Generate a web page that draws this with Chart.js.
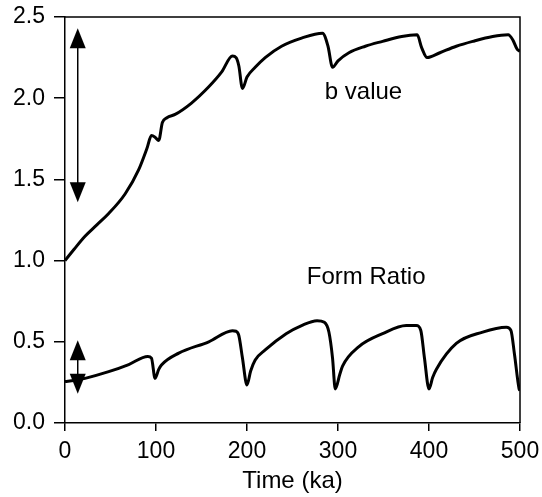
<!DOCTYPE html>
<html>
<head>
<meta charset="utf-8">
<script src="https://cdn.jsdelivr.net/npm/chart.js@4/dist/chart.umd.min.js"></script>
<style>
  html, body { margin: 0; padding: 0; background: #fff; }
  canvas { display: block; }
</style>
</head>
<body>
<canvas id="chart" width="542" height="497"></canvas>
<script>
// b value curve (time in ka, value)
const bTime = [0, 10, 22, 35, 48, 66, 81, 90, 95, 99, 103, 107, 112, 121, 139, 158, 172, 184, 188, 191, 195,
    200, 209, 220, 238, 260, 283, 289, 294, 300, 312, 330, 349, 370, 387, 392, 398,
    412, 430, 448, 470, 487, 492, 497, 500];
const bValue = [1.0, 1.07, 1.15, 1.22, 1.29, 1.41, 1.56, 1.69, 1.77, 1.76, 1.74, 1.85, 1.88, 1.90, 1.97, 2.07, 2.16, 2.26, 2.25, 2.20, 2.06,
    2.13, 2.19, 2.25, 2.32, 2.37, 2.40, 2.32, 2.19, 2.23, 2.28, 2.32, 2.35, 2.38, 2.39, 2.31, 2.25,
    2.28, 2.32, 2.35, 2.38, 2.39, 2.36, 2.30, 2.29];

// form ratio curve
const frTime = [0, 10, 22, 48, 70, 91, 95, 99, 103, 106, 125, 158, 184, 188, 191, 195, 200,
    204, 209, 220, 243, 260, 277, 285, 290, 294, 297,
    302, 305, 323, 349, 375, 386, 391, 395, 400,
    404, 408, 430, 459, 485, 490, 494, 499, 500];
const frValue = [0.255, 0.262, 0.275, 0.316, 0.36, 0.41, 0.40, 0.275, 0.33, 0.357, 0.43, 0.50, 0.568, 0.565, 0.54, 0.40, 0.234,
    0.32, 0.388, 0.45, 0.55, 0.60, 0.63, 0.62, 0.56, 0.40, 0.21,
    0.30, 0.35, 0.47, 0.55, 0.60, 0.60, 0.57, 0.40, 0.21,
    0.28, 0.33, 0.49, 0.56, 0.59, 0.57, 0.42, 0.21, 0.20];

// axis ticks
const xTicks = [0, 100, 200, 300, 400, 500];
const yTicks = [0.0, 0.5, 1.0, 1.5, 2.0, 2.5];

// range arrows (double headed) and curve labels
const arrowTime = [14, 14];
const arrowTop = [2.43, 0.51];
const arrowBottom = [1.36, 0.18];
const labelText = ['b value', 'Form Ratio'];
const labelTime = [328, 331];
const labelValue = [2.035, 0.895];

const FONT = "'Liberation Sans', Arial, Helvetica, sans-serif";

function toPoints(xs, ys) {
    return xs.map((x, i) => ({ x: x, y: ys[i] }));
}

const decorations = {
    id: 'decorations',
    afterDatasetsDraw(chart) {
        const ctx = chart.ctx;
        const a = chart.chartArea;
        const xs = chart.scales.x, ys = chart.scales.y;
        ctx.save();
        // frame top & right
        ctx.strokeStyle = '#000';
        ctx.lineWidth = 1.5;
        ctx.beginPath();
        ctx.moveTo(a.left, a.top);
        ctx.lineTo(a.right, a.top);
        ctx.lineTo(a.right, a.bottom);
        ctx.stroke();

        // arrows
        arrowTime.forEach((t, i) => {
            const x = xs.getPixelForValue(t);
            const y1 = ys.getPixelForValue(arrowTop[i]);
            const y2 = ys.getPixelForValue(arrowBottom[i]);
            const hw = 8, hh = 20;
            ctx.lineWidth = 1.5;
            ctx.beginPath();
            ctx.moveTo(x, y1 + hh - 2);
            ctx.lineTo(x, y2 - hh + 2);
            ctx.stroke();
            ctx.fillStyle = '#000';
            ctx.beginPath();
            ctx.moveTo(x, y1);
            ctx.lineTo(x - hw, y1 + hh);
            ctx.lineTo(x + hw, y1 + hh);
            ctx.closePath();
            ctx.fill();
            ctx.beginPath();
            ctx.moveTo(x, y2);
            ctx.lineTo(x - hw, y2 - hh);
            ctx.lineTo(x + hw, y2 - hh);
            ctx.closePath();
            ctx.fill();
        });

        // labels
        ctx.fillStyle = '#000';
        ctx.font = '24px ' + FONT;
        ctx.textAlign = 'center';
        ctx.textBaseline = 'middle';
        labelText.forEach((s, i) => {
            ctx.fillText(s, xs.getPixelForValue(labelTime[i]), ys.getPixelForValue(labelValue[i]));
        });
        ctx.restore();
    }
};

const lineStyle = {
    borderColor: '#000',
    borderWidth: 3,
    pointRadius: 0,
    fill: false,
    cubicInterpolationMode: 'monotone'
};

new Chart(document.getElementById('chart'), {
    type: 'line',
    data: {
        datasets: [
            Object.assign({ label: 'b value', data: toPoints(bTime, bValue) }, lineStyle),
            Object.assign({ label: 'Form Ratio', data: toPoints(frTime, frValue) }, lineStyle)
        ]
    },
    options: {
        responsive: false,
        animation: false,
        devicePixelRatio: 1,
        layout: { padding: { left: 0, right: 22, top: 17, bottom: 0 } },
        plugins: {
            legend: { display: false },
            tooltip: { enabled: false }
        },
        scales: {
            x: {
                type: 'linear',
                min: 0,
                max: 500,
                afterBuildTicks: (s) => { s.ticks = xTicks.map(v => ({ value: v })); },
                afterFit: (s) => { s.height = 74; s.paddingLeft = 0; s.paddingRight = 0; },
                border: { display: true, color: '#000', width: 1.5 },
                grid: { display: true, drawOnChartArea: false, drawTicks: true, tickLength: 8, color: '#000', lineWidth: 1.5 },
                ticks: { color: '#000', font: { family: FONT, size: 23 }, padding: 7, maxRotation: 0 },
                title: { display: true, text: 'Time (ka)', color: '#000', font: { family: FONT, size: 24 }, padding: { top: 0, bottom: 1 } }
            },
            y: {
                type: 'linear',
                min: 0,
                max: 2.5,
                afterBuildTicks: (s) => { s.ticks = yTicks.map(v => ({ value: v })); },
                afterFit: (s) => { s.width = 65; s.paddingTop = 0; s.paddingBottom = 0; },
                border: { display: true, color: '#000', width: 1.5 },
                grid: { display: true, drawOnChartArea: false, drawTicks: true, tickLength: 11, color: '#000', lineWidth: 1.5 },
                ticks: {
                    color: '#000',
                    font: { family: FONT, size: 23 },
                    padding: 9,
                    callback: (v) => v.toFixed(1)
                }
            }
        }
    },
    plugins: [decorations]
});
</script>
</body>
</html>
